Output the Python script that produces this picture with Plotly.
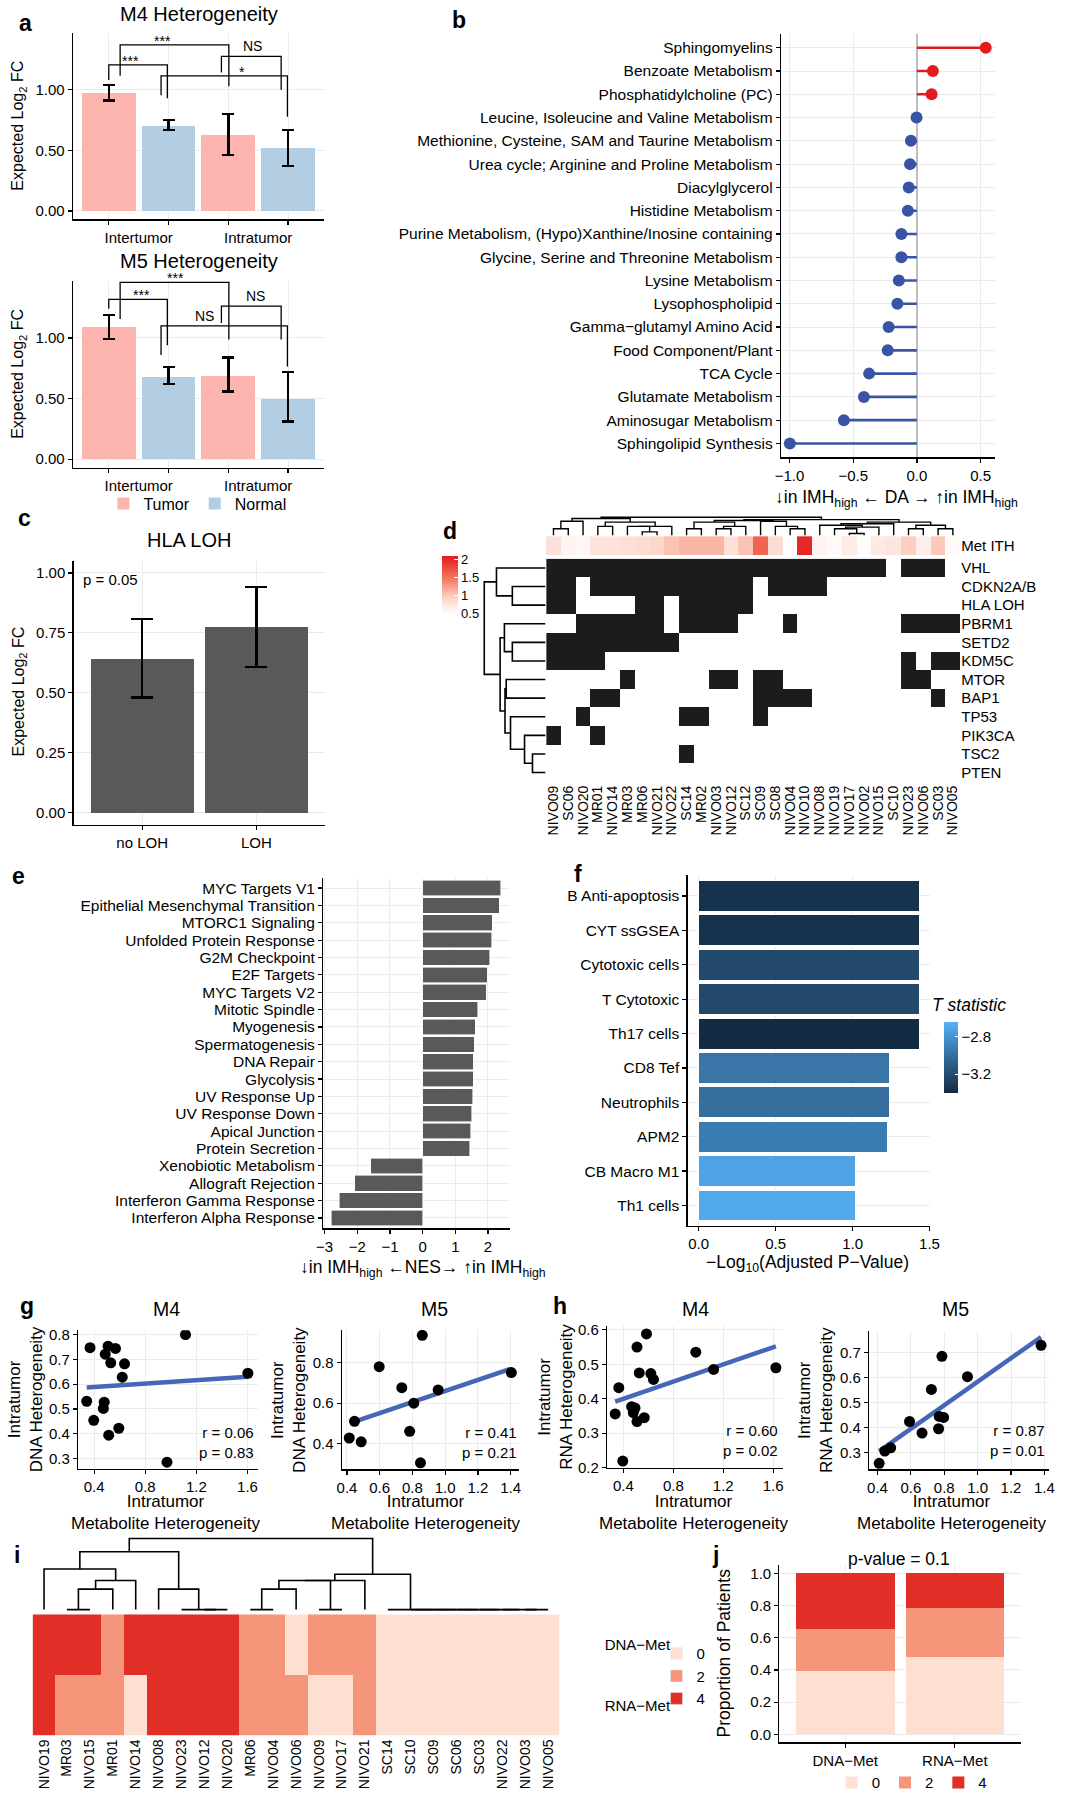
import plotly.graph_objects as go

W, H = 1067, 1800
FONT = "Liberation Sans, Arial, Helvetica, sans-serif"
GRID = "#EBEBEB"
MINUS = "\u2212"

# ===================== DATA =====================
# (a) expected log2 FC
a_groups = ["Intertumor", "Intratumor"]
a_series = ["Tumor", "Normal"]
a_colors = ["#FBB4AE", "#B3CDE3"]
m4_tumor = [0.97, 0.63]
m4_tumor_lo = [0.91, 0.46]
m4_tumor_hi = [1.04, 0.80]
m4_normal = [0.70, 0.52]
m4_normal_lo = [0.67, 0.37]
m4_normal_hi = [0.75, 0.67]
m5_tumor = [1.09, 0.69]
m5_tumor_lo = [0.99, 0.56]
m5_tumor_hi = [1.19, 0.84]
m5_normal = [0.68, 0.50]
m5_normal_lo = [0.62, 0.31]
m5_normal_hi = [0.76, 0.72]
# significance brackets (x in bar slots 1..4)
m4_sig_x1 = [1.00, 1.19, 2.885, 1.875]
m4_sig_x2 = [1.98, 3.01, 3.885, 3.99]
m4_sig_top = [1.205, 1.37, 1.275, 1.115]
m4_sig_left = [1.08, 1.115, 1.143, 0.955]
m4_sig_right = [0.93, 1.03, 1.00, 0.778]
m4_sig_labx = [1.37, 1.90, 3.40, 3.23]
m4_sig_lab = ["***", "***", "NS", "*"]
m5_sig_x1 = [1.00, 1.19, 2.885, 1.875]
m5_sig_x2 = [1.98, 3.01, 3.885, 3.99]
m5_sig_top = [1.318, 1.458, 1.263, 1.10]
m5_sig_left = [1.24, 1.156, 1.123, 0.86]
m5_sig_right = [0.94, 0.987, 0.987, 0.765]
m5_sig_labx = [1.55, 2.12, 3.46, 2.61]
m5_sig_lab = ["***", "***", "NS", "NS"]

# (b) differential abundance
b_pathways = ["Sphingomyelins", "Benzoate Metabolism", "Phosphatidylcholine (PC)",
              "Leucine, Isoleucine and Valine Metabolism",
              "Methionine, Cysteine, SAM and Taurine Metabolism",
              "Urea cycle; Arginine and Proline Metabolism", "Diacylglycerol",
              "Histidine Metabolism", "Purine Metabolism, (Hypo)Xanthine/Inosine containing",
              "Glycine, Serine and Threonine Metabolism", "Lysine Metabolism",
              "Lysophospholipid", "Gamma\u2212glutamyl Amino Acid", "Food Component/Plant",
              "TCA Cycle", "Glutamate Metabolism", "Aminosugar Metabolism",
              "Sphingolipid Synthesis"]
b_da = [0.54, 0.125, 0.115, -0.003, -0.047, -0.054, -0.064, -0.071, -0.122, -0.122,
        -0.142, -0.153, -0.222, -0.229, -0.375, -0.416, -0.573, -0.997]
b_xticks = [-1.0, -0.5, 0.0, 0.5]

# (c) HLA LOH
c_groups = ["no LOH", "LOH"]
c_vals = [0.643, 0.773]
c_lo = [0.48, 0.608]
c_hi = [0.808, 0.941]

# (d) mutation heatmap
d_samples = ["NIVO09", "SC06", "NIVO20", "MR01", "NIVO14", "MR03", "MR06", "NIVO21",
             "NIVO22", "SC14", "MR02", "NIVO03", "NIVO12", "SC12", "SC09", "SC08",
             "NIVO04", "NIVO10", "NIVO08", "NIVO19", "NIVO17", "NIVO02", "NIVO15",
             "SC10", "NIVO23", "NIVO06", "SC03", "NIVO05"]
d_genes = ["VHL", "CDKN2A/B", "HLA LOH", "PBRM1", "SETD2", "KDM5C", "MTOR", "BAP1",
           "TP53", "PIK3CA", "TSC2", "PTEN"]
# altered samples as (first, last) column runs
d_runs = {
    "VHL": [(0, 22), (24, 26)],
    "CDKN2A/B": [(0, 1), (3, 13), (15, 18)],
    "HLA LOH": [(0, 1), (6, 7), (9, 13)],
    "PBRM1": [(2, 7), (9, 12), (16, 16), (24, 27)],
    "SETD2": [(0, 8)],
    "KDM5C": [(0, 3), (24, 24), (26, 27)],
    "MTOR": [(5, 5), (11, 12), (14, 15), (24, 25)],
    "BAP1": [(3, 4), (14, 17), (26, 26)],
    "TP53": [(2, 2), (9, 10), (14, 14)],
    "PIK3CA": [(0, 0), (3, 3)],
    "TSC2": [(9, 9)],
    "PTEN": [],
}
d_met_ith = [0.80, 0.62, 0.58, 0.78, 0.78, 0.82, 0.85, 0.90, 1.05, 1.12, 1.12, 1.12,
             0.80, 1.05, 1.60, 0.85, 0.50, 2.00, 0.62, 0.56, 0.70, 0.52, 0.72, 0.75,
             0.98, 0.68, 1.02, 0.54]
# dendrograms: (node, left, right, height)
d_row_tree = [("r1", 1, 2, 0.54), ("r2", 0, "r1", 0.80), ("r3", 4, 5, 0.54),
              ("r4", 3, "r3", 0.67), ("r5", 10, 11, 0.21), ("r6", 9, "r5", 0.34),
              ("r7", 8, "r6", 0.57), ("r8", 6, 7, 0.64), ("r9", "r8", "r7", 0.66),
              ("r10", "r4", "r9", 0.74), ("root", "r2", "r10", 1.0)]
d_col_tree = [("a1", 0, 1, 0.36), ("a7", "a1", 2, 0.78), ("a2", 3, 4, 0.49),
              ("a3", 6, 7, 0.18), ("a4", 5, "a3", 0.49), ("a5", "a4", 8, 0.49),
              ("a6", "a2", "a5", 0.73), ("a8", "a7", "a6", 0.93),
              ("b1", 9, 10, 0.36), ("b2", 11, 12, 0.36), ("b3", "b2", 13, 0.49),
              ("b4", "b1", "b3", 0.73), ("b5", 16, 17, 0.36), ("b5b", 15, "b5", 0.49),
              ("b6", 14, "b5b", 0.78), ("c1", "b4", "b6", 0.82),
              ("e1", 20, 21, 0.09), ("e2", 19, "e1", 0.36), ("e3", "e2", 22, 0.45),
              ("e4", 18, "e3", 0.55), ("e5", "e4", 23, 0.64),
              ("f1", 24, 25, 0.36), ("f2", 26, 27, 0.36), ("f3", "f1", "f2", 0.55),
              ("g1", "e5", "f3", 0.73), ("g2", "c1", "g1", 0.87),
              ("root", "a8", "g2", 1.0)]

# (e) GSEA NES
e_paths = ["MYC Targets V1", "Epithelial Mesenchymal Transition", "MTORC1 Signaling",
           "Unfolded Protein Response", "G2M Checkpoint", "E2F Targets", "MYC Targets V2",
           "Mitotic Spindle", "Myogenesis", "Spermatogenesis", "DNA Repair", "Glycolysis",
           "UV Response Up", "UV Response Down", "Apical Junction", "Protein Secretion",
           "Xenobiotic Metabolism", "Allograft Rejection", "Interferon Gamma Response",
           "Interferon Alpha Response"]
e_nes = [2.39, 2.35, 2.13, 2.12, 2.05, 1.97, 1.94, 1.69, 1.61, 1.58, 1.55, 1.55, 1.54,
         1.50, 1.47, 1.44, -1.59, -2.07, -2.55, -2.79]
e_xticks = [-3, -2, -1, 0, 1, 2]

# (f) immune signatures
f_sigs = ["B Anti-apoptosis", "CYT ssGSEA", "Cytotoxic cells", "T Cytotoxic", "Th17 cells",
          "CD8 Tef", "Neutrophils", "APM2", "CB Macro M1", "Th1 cells"]
f_logp = [1.434, 1.434, 1.434, 1.434, 1.434, 1.239, 1.239, 1.23, 1.02, 1.016]
f_tstat = [-3.36, -3.36, -3.22, -3.22, -3.40, -2.96, -3.00, -2.92, -2.72, -2.69]
f_xticks = [0.0, 0.5, 1.0, 1.5]
f_cticks = [-3.2, -2.8]

# (g) DNA heterogeneity vs metabolite heterogeneity
g_m4_x = [0.368, 0.509, 0.567, 0.487, 0.530, 0.638, 0.620, 0.342, 0.479, 0.472, 0.397,
          0.593, 0.514, 1.115, 1.603, 0.970]
g_m4_y = [0.747, 0.753, 0.744, 0.721, 0.686, 0.682, 0.628, 0.531, 0.527, 0.502, 0.454,
          0.422, 0.394, 0.800, 0.644, 0.285]
g_m4_fit_x = [0.342, 1.603]
g_m4_fit_y = [0.586, 0.630]
g_m5_x = [0.860, 0.597, 0.735, 0.957, 0.808, 1.404, 0.446, 0.414, 0.487, 0.783, 0.849]
g_m5_y = [0.933, 0.779, 0.676, 0.665, 0.600, 0.750, 0.511, 0.429, 0.410, 0.462, 0.307]
g_m5_fit_x = [0.419, 1.394]
g_m5_fit_y = [0.502, 0.767]
# (h) RNA heterogeneity vs metabolite heterogeneity
h_m4_x = [0.585, 0.509, 0.980, 0.527, 0.620, 0.641, 1.123, 1.622, 0.363, 0.466, 0.493,
          0.479, 0.567, 0.509, 0.334, 0.395]
h_m4_y = [0.588, 0.550, 0.535, 0.475, 0.473, 0.456, 0.485, 0.490, 0.432, 0.377, 0.373,
          0.360, 0.345, 0.334, 0.356, 0.219]
h_m4_fit_x = [0.334, 1.622]
h_m4_fit_y = [0.392, 0.552]
h_m5_x = [0.41, 0.444, 0.479, 0.592, 0.667, 0.723, 0.766, 0.786, 0.770, 0.796, 0.939, 1.380]
h_m5_y = [0.258, 0.307, 0.320, 0.425, 0.379, 0.553, 0.396, 0.685, 0.445, 0.441, 0.604, 0.729]
h_m5_fit_x = [0.41, 1.38]
h_m5_fit_y = [0.307, 0.762]
gh_stats = [("0.06", "0.83"), ("0.41", "0.21"), ("0.60", "0.02"), ("0.87", "0.01")]

# (i) concordance heatmap
i_samples = ["NIVO19", "MR03", "NIVO15", "MR01", "NIVO14", "NIVO08", "NIVO23", "NIVO12",
             "NIVO20", "MR06", "NIVO04", "NIVO06", "NIVO09", "NIVO17", "NIVO21", "SC14",
             "SC10", "SC09", "SC06", "SC03", "NIVO22", "NIVO03", "NIVO05"]
i_rows = ["DNA\u2212Met", "RNA\u2212Met"]
i_dna = [4, 4, 4, 2, 4, 4, 4, 4, 4, 2, 2, 0, 2, 2, 2, 0, 0, 0, 0, 0, 0, 0, 0]
i_rna = [4, 2, 2, 2, 0, 4, 4, 4, 4, 2, 2, 2, 0, 0, 2, 0, 0, 0, 0, 0, 0, 0, 0]
i_levels = [0, 2, 4]
i_colors = ["#FDE0D2", "#F5957A", "#E12E26"]
i_tree = [("ma", 1, 2, 0.0), ("mb", "ma", 3, 0.288), ("mc", "mb", 4, 0.409),
          ("md", 0, "mc", 0.572), ("me", 7, 8, 0.0), ("mf", 6, "me", 0.0),
          ("mg", 5, "mf", 0.288), ("mh", "md", "mg", 0.814),
          ("mi", 9, 10, 0.0), ("mj", "mi", 11, 0.288), ("mk", 12, 13, 0.0),
          ("ml", "mj", "mk", 0.409), ("mm", "ml", 14, 0.409),
          ("s1", 21, 22, 0.0), ("s2", 20, "s1", 0.0), ("s3", 19, "s2", 0.0),
          ("s4", 18, "s3", 0.0), ("s5", 17, "s4", 0.0), ("s6", 16, "s5", 0.0),
          ("s7", 15, "s6", 0.0), ("mn", "mm", "s7", 0.498), ("root", "mh", "mn", 1.0)]
# (j)
j_groups = ["DNA\u2212Met", "RNA\u2212Met"]
j_yticks = [0.0, 0.2, 0.4, 0.6, 0.8, 1.0]

# ===================== HELPERS =====================
fig = go.Figure()
L = {}
ANN = []


def fx(p):
    return p / W


def fy(p):
    return 1 - p / H


def fmt(v, d):
    return f"{v:.{d}f}".replace("-", MINUS)


def axes(n, xd, yd, xr, yr, styled=True, xkw=None, ykw=None):
    s = "" if n == 1 else str(n)
    xa = dict(domain=[fx(xd[0]), fx(xd[1])], range=xr, anchor="y" + s)
    ya = dict(domain=[fy(yd[1]), fy(yd[0])], range=yr, anchor="x" + s)
    for a in (xa, ya):
        a.update(fixedrange=True, zeroline=False)
        if styled:
            a.update(showline=True, linecolor="black", linewidth=1.3, ticks="outside",
                     ticklen=4, tickwidth=1.2, tickcolor="black",
                     tickfont=dict(family=FONT, size=15, color="black"),
                     showgrid=True, gridcolor=GRID, gridwidth=1)
        else:
            a.update(showline=False, ticks="", showgrid=False, showticklabels=False)
    if xkw:
        xa.update(xkw)
    if ykw:
        ya.update(ykw)
    L["xaxis" + s] = xa
    L["yaxis" + s] = ya
    return "x" + s, "y" + s


def text(x, y, s, size=15, xanchor="center", yanchor="middle", angle=0,
         xref="paper", yref="paper", yshift=0, align="center"):
    ANN.append(dict(x=fx(x) if xref == "paper" else x, y=fy(y) if yref == "paper" else y,
                    xref=xref, yref=yref, text=s, showarrow=False, xanchor=xanchor,
                    yanchor=yanchor, textangle=angle, yshift=yshift, align=align,
                    font=dict(family=FONT, size=size, color="black")))


def dendro(tree):
    pos = {}
    xs, hs = [], []

    def get(k):
        return (float(k), 0.0) if isinstance(k, int) else pos[k]
    for name, a, b, h in tree:
        xa, ha = get(a)
        xb, hb = get(b)
        xs += [xa, xa, xb, xb, None]
        hs += [ha, h, h, hb, None]
        pos[name] = ((xa + xb) / 2, h)
    return xs, hs


def cat_ticks(cats, size=None):
    d = dict(type="category", tickmode="array", tickvals=cats, ticktext=cats)
    if size:
        d["tickfont"] = dict(family=FONT, size=size, color="black")
    return d


# ===================== PANEL A =====================
def panel_a(n, yd, tum, tlo, thi, nor, nlo, nhi, sx1, sx2, stop, sl, sr, slx, slab, show_leg):
    xa, ya = axes(n, (67, 322), yd, [0.4, 4.6], [-0.07, 1.47],
                  xkw=dict(tickmode="array", tickvals=[1.5, 3.5], ticktext=a_groups,
                           tickcolor="rgba(0,0,0,0)", showgrid=False,
                           minor=dict(tickmode="array", tickvals=[1, 2, 3, 4], ticks="outside",
                                      ticklen=4, tickwidth=1.2, tickcolor="black",
                                      showgrid=True, gridcolor=GRID, gridwidth=1)),
                  ykw=dict(tickmode="array", tickvals=[0, 0.5, 1.0],
                           ticktext=[fmt(v, 2) for v in [0, 0.5, 1.0]]))
    ng = len(a_groups)
    slots = [[2 * g + 1 for g in range(ng)], [2 * g + 2 for g in range(ng)]]
    for si, (vals, lo, hi) in enumerate([(tum, tlo, thi), (nor, nlo, nhi)]):
        fig.add_trace(go.Bar(
            x=slots[si], y=vals, width=0.9, name=a_series[si],
            marker=dict(color=a_colors[si], line=dict(width=0)),
            error_y=dict(type="data", symmetric=False,
                         array=[h - v for v, h in zip(vals, hi)],
                         arrayminus=[v - l for v, l in zip(vals, lo)],
                         color="black", thickness=2.5, width=6),
            showlegend=show_leg, legend="legend", xaxis=xa, yaxis=ya, hoverinfo="skip"))
    bx, by = [], []
    for a, b, t, l, r in zip(sx1, sx2, stop, sl, sr):
        bx += [a, a, b, b, None]
        by += [l, t, t, r, None]
    fig.add_trace(go.Scatter(x=bx, y=by, mode="lines", line=dict(color="black", width=1.3),
                             showlegend=False, xaxis=xa, yaxis=ya, hoverinfo="skip"))
    for lx, t, lab in zip(slx, stop, slab):
        star = "*" in lab
        text(lx, t, lab, size=14, yanchor="bottom", xref=xa, yref=ya,
             yshift=-6 if star else 0)


panel_a(1, (28, 216), m4_tumor, m4_tumor_lo, m4_tumor_hi, m4_normal, m4_normal_lo,
        m4_normal_hi, m4_sig_x1, m4_sig_x2, m4_sig_top, m4_sig_left, m4_sig_right,
        m4_sig_labx, m4_sig_lab, True)
panel_a(2, (278, 466), m5_tumor, m5_tumor_lo, m5_tumor_hi, m5_normal, m5_normal_lo,
        m5_normal_hi, m5_sig_x1, m5_sig_x2, m5_sig_top, m5_sig_left, m5_sig_right,
        m5_sig_labx, m5_sig_lab, False)
text(195, 9, "M4 Heterogeneity", 20)
text(195, 258, "M5 Heterogeneity", 20)
text(11.7, 122, "Expected Log<sub>2</sub> FC", 16, angle=-90)
text(11.7, 372, "Expected Log<sub>2</sub> FC", 16, angle=-90)

# ===================== PANEL B =====================
xb, yb = axes(3, (786.6, 1004.3), (29, 455.7), [-1.066, 0.615],
              [len(b_pathways) - 0.4, -0.6],
              xkw=dict(tickmode="array", tickvals=b_xticks, ticktext=[fmt(v, 1) for v in b_xticks],
                       zeroline=True, zerolinecolor="#BEBEBE", zerolinewidth=2.5),
              ykw=cat_ticks(b_pathways, 15.5))
B_RED, B_BLUE = "#E41A1C", "#3A54A5"
for sign, col in [(1, B_RED), (-1, B_BLUE)]:
    sx, sy, px, py = [], [], [], []
    for p, v in zip(b_pathways, b_da):
        if (v > 0) == (sign > 0):
            sx += [0, v, None]
            sy += [p, p, None]
            px.append(v)
            py.append(p)
    fig.add_trace(go.Scatter(x=sx, y=sy, mode="lines", line=dict(color=col, width=2.6),
                             showlegend=False, xaxis=xb, yaxis=yb, hoverinfo="skip"))
    fig.add_trace(go.Scatter(x=px, y=py, mode="markers", marker=dict(color=col, size=12),
                             showlegend=False, xaxis=xb, yaxis=yb, hoverinfo="skip"))
text(903.6, 496.7, "\u2193in IMH<sub>high</sub> \u2190 DA \u2192 \u2191in IMH<sub>high</sub>", 17.5)

# ===================== PANEL C =====================
xc, yc = axes(4, (67.7, 323), (560, 825.7), [0.4, 2.6], [-0.05, 1.05],
              xkw=dict(tickmode="array", tickvals=[1, 2], ticktext=c_groups),
              ykw=dict(tickmode="array", tickvals=[0, 0.25, 0.5, 0.75, 1.0],
                       ticktext=[fmt(v, 2) for v in [0, 0.25, 0.5, 0.75, 1.0]]))
fig.add_trace(go.Bar(x=[i + 1 for i in range(len(c_groups))], y=c_vals, width=0.9,
                     marker=dict(color="#595959", line=dict(width=0)),
                     error_y=dict(type="data", symmetric=False,
                                  array=[h - v for v, h in zip(c_vals, c_hi)],
                                  arrayminus=[v - l for v, l in zip(c_vals, c_lo)],
                                  color="black", thickness=2.5, width=11),
                     showlegend=False, xaxis=xc, yaxis=yc, hoverinfo="skip"))
text(185, 539, "HLA LOH", 20)
text(75.3, 579, "p = 0.05", 15, xanchor="left")
text(11.7, 692, "Expected Log<sub>2</sub> FC", 16, angle=-90)

# ===================== PANEL D =====================
nS, nG = len(d_samples), len(d_genes)
d_z = []
for g in d_genes:
    row = [0] * nS
    for a, b in d_runs[g]:
        for k in range(a, b + 1):
            row[k] = 1
    d_z.append(row)
xd5, yd5 = axes(5, (547.8, 968.7), (557.7, 782.5), [-0.5, nS - 0.5], [nG - 0.5, -0.5],
                styled=False,
                xkw=dict(showticklabels=True, tickangle=-90, **cat_ticks(d_samples, 14)),
                ykw=dict(showticklabels=True, side="right", **cat_ticks(d_genes, 15)))
fig.add_trace(go.Heatmap(z=d_z, x=d_samples, y=d_genes, zmin=0, zmax=1,
                         colorscale=[[0, "#FFFFFF"], [1, "#1C1C1C"]], showscale=False,
                         xaxis=xd5, yaxis=yd5, hoverinfo="skip"))
xd6, yd6 = axes(6, (547.8, 968.7), (535, 554), [-0.5, nS - 0.5], [-0.5, 0.5], styled=False,
                xkw=cat_ticks(d_samples),
                ykw=dict(showticklabels=True, side="right", **cat_ticks(["Met ITH"], 15)))
fig.add_trace(go.Heatmap(z=[d_met_ith], x=d_samples, y=["Met ITH"], zmin=0.5, zmax=2.1,
                         colorscale=[[0, "#FFFFFF"], [0.3, "#FCCFC1"], [0.6, "#F47A61"],
                                     [1, "#E31A1C"]],
                         colorbar=dict(x=fx(442), xanchor="left", y=fy(613), yanchor="bottom",
                                       len=58, lenmode="pixels", thickness=16,
                                       thicknessmode="pixels", tickmode="array",
                                       tickvals=[0.5, 1, 1.5, 2],
                                       ticktext=["0.5", "1", "1.5", "2"], ticks="inside",
                                       ticklen=4, tickcolor="white",
                                       tickfont=dict(family=FONT, size=13, color="black"),
                                       outlinewidth=0, xpad=0, ypad=0),
                         xaxis=xd6, yaxis=yd6, hoverinfo="skip"))
xd7, yd7 = axes(7, (482, 548), (557.7, 782.5), [1.048, -0.016], [nG - 0.5, -0.5], styled=False)
rx, rh = dendro(d_row_tree)
fig.add_trace(go.Scatter(x=rh, y=rx, mode="lines", line=dict(color="black", width=1.6),
                         showlegend=False, xaxis=xd7, yaxis=yd7, hoverinfo="skip"))
xd8, yd8 = axes(8, (547.8, 968.7), (513, 535), [-0.5, nS - 0.5], [-0.056, 1.167], styled=False)
cx, ch = dendro(d_col_tree)
fig.add_trace(go.Scatter(x=cx, y=ch, mode="lines", line=dict(color="black", width=1.4),
                         showlegend=False, xaxis=xd8, yaxis=yd8, hoverinfo="skip"))

# ===================== PANEL E =====================
xe, ye = axes(9, (321.4, 510.7), (879, 1232.3), [-3.04, 2.66], [len(e_paths) - 0.4, -0.6],
              xkw=dict(tickmode="array", tickvals=e_xticks, ticktext=[fmt(v, 0) for v in e_xticks]),
              ykw=cat_ticks(e_paths, 15.5))
fig.add_trace(go.Bar(x=e_nes, y=e_paths, orientation="h", width=0.9,
                     marker=dict(color="#595959", line=dict(color="white", width=0.6)),
                     showlegend=False, xaxis=xe, yaxis=ye, hoverinfo="skip"))
text(423, 1273, "\u2193in IMH<sub>high</sub> \u2190NES\u2192 \u2191in IMH<sub>high</sub>", 17.5)

# ===================== PANEL F =====================
xf, yf = axes(10, (691.7, 937.7), (876.7, 1230), [-0.0715, 1.5015], [len(f_sigs) - 0.4, -0.6],
              xkw=dict(tickmode="array", tickvals=f_xticks, ticktext=[fmt(v, 1) for v in f_xticks]),
              ykw=cat_ticks(f_sigs, 15.5))
fig.add_trace(go.Bar(x=f_logp, y=f_sigs, orientation="h", width=0.9,
                     marker=dict(color=f_tstat, cmin=-3.40, cmax=-2.64,
                                 colorscale=[[0, "#132B43"], [0.5, "#336A98"], [1, "#56B1F7"]],
                                 line=dict(color="white", width=1),
                                 colorbar=dict(x=fx(951.7), xanchor="left", y=fy(1095.7),
                                               yanchor="bottom", len=70.7, lenmode="pixels",
                                               thickness=14.3, thicknessmode="pixels",
                                               tickmode="array", tickvals=f_cticks,
                                               ticktext=[fmt(v, 1) for v in f_cticks],
                                               ticks="inside", ticklen=3, tickcolor="white",
                                               tickfont=dict(family=FONT, size=15, color="black"),
                                               outlinewidth=0, xpad=0, ypad=0)),
                     showlegend=False, xaxis=xf, yaxis=yf, hoverinfo="skip"))
text(938, 1007.7, "<i>T statistic</i>", 17.5, xanchor="left")
text(813, 1268, MINUS + "Log<sub>10</sub>(Adjusted P" + MINUS + "Value)", 17.5)

# ===================== PANELS G / H =====================
LINE_BLUE = "#4666B8"
sc_specs = [
    (11, (72.3, 254.8), (1335, 1474.3), [0.275, 1.68], [0.259, 0.817],
     [0.4, 0.8, 1.2, 1.6], [0.3, 0.4, 0.5, 0.6, 0.7, 0.8], g_m4_x, g_m4_y, g_m4_fit_x, g_m4_fit_y,
     "M4", 161.9, 19, 1404.6, 253.1, 1447.5, "DNA", 161.9),
    (12, (340.3, 520), (1334.3, 1475), [0.369, 1.449], [0.275, 0.961],
     [0.4, 0.6, 0.8, 1.0, 1.2, 1.4], [0.4, 0.6, 0.8], g_m5_x, g_m5_y, g_m5_fit_x, g_m5_fit_y,
     "M5", 434.6, 285.9, 1404.7, 520, 1447.5, "DNA", 425.3),
    (13, (609.9, 788.7), (1331, 1473.3), [0.27, 1.68], [0.2, 0.61],
     [0.4, 0.8, 1.2, 1.6], [0.2, 0.3, 0.4, 0.5, 0.6], h_m4_x, h_m4_y, h_m4_fit_x, h_m4_fit_y,
     "M4", 699.6, 557.7, 1402, 785.4, 1445.8, "RNA", 698),
    (14, (876.1, 1059.3), (1335.7, 1475), [0.35, 1.43], [0.234, 0.786],
     [0.4, 0.6, 0.8, 1.0, 1.2, 1.4], [0.3, 0.4, 0.5, 0.6, 0.7], h_m5_x, h_m5_y, h_m5_fit_x,
     h_m5_fit_y, "M5", 964.2, 822.3, 1405, 1056.6, 1445.8, "RNA", 960),
]
for k, (n, xdm, ydm, xr, yr, xt, yt, px, py, fxs, fys, ttl, tx, ytx, yty, sx, sy, kind, xtx) in enumerate(sc_specs):
    xa, ya = axes(n, xdm, ydm, xr, yr,
                  xkw=dict(tickmode="array", tickvals=xt, ticktext=[fmt(v, 1) for v in xt]),
                  ykw=dict(tickmode="array", tickvals=yt, ticktext=[fmt(v, 1) for v in yt]))
    fig.add_trace(go.Scatter(x=fxs, y=fys, mode="lines", line=dict(color=LINE_BLUE, width=4.5),
                             showlegend=False, xaxis=xa, yaxis=ya, hoverinfo="skip"))
    fig.add_trace(go.Scatter(x=px, y=py, mode="markers", marker=dict(color="black", size=11),
                             showlegend=False, xaxis=xa, yaxis=ya, hoverinfo="skip"))
    text(tx, 1313, ttl, 19.5)
    text(ytx, yty, f"Intratumor<br>{kind} Heterogeneity", 17, angle=-90)
    text(xtx, 1518.5, "Intratumor<br>Metabolite Heterogeneity", 17)
    r, p = gh_stats[k]
    text(sx, sy, f"r = {r}<br>p = {p}", 15, xanchor="right", align="right")

# ===================== PANEL I =====================
nI = len(i_samples)
xi, yi = axes(15, (26, 561.6), (1621, 1743.3), [-0.5, nI - 0.5], [1.5, -0.5], styled=False,
              xkw=dict(showticklabels=True, tickangle=-90, **cat_ticks(i_samples, 14)),
              ykw=dict(showticklabels=True, side="right", ticklabelstandoff=44,
                       **cat_ticks(i_rows, 15)))
fig.add_trace(go.Heatmap(z=[i_dna, i_rna], x=i_samples, y=i_rows, zmin=0, zmax=4,
                         colorscale=[[0, i_colors[0]], [0.5, i_colors[1]], [1, i_colors[2]]],
                         showscale=False, xaxis=xi, yaxis=yi, hoverinfo="skip"))
xi2, yi2 = axes(16, (26, 561.6), (1540, 1619), [-0.5, nI - 0.5], [-0.038, 1.066], styled=False)
ix, ih = dendro(i_tree)
fig.add_trace(go.Scatter(x=ix, y=ih, mode="lines", line=dict(color="black", width=1.6),
                         showlegend=False, xaxis=xi2, yaxis=yi2, hoverinfo="skip"))
for lvl, col in zip(i_levels, i_colors):
    fig.add_trace(go.Bar(x=[None], y=[None], name=str(lvl), marker=dict(color=col),
                         legend="legend2", showlegend=True, xaxis=xi2, yaxis=yi2,
                         hoverinfo="skip"))

# ===================== PANEL J =====================
xj, yj = axes(17, (785, 1030), (1571.7, 1750), [0.4, 2.6], [-0.05, 1.05],
              xkw=dict(tickmode="array", tickvals=[1, 2], ticktext=j_groups),
              ykw=dict(tickmode="array", tickvals=j_yticks, ticktext=[fmt(v, 1) for v in j_yticks]))
for lvl, col in zip(i_levels, i_colors):
    props = [sum(1 for v in row if v == lvl) / len(row) for row in (i_dna, i_rna)]
    fig.add_trace(go.Bar(x=[1, 2], y=props, width=0.9, name=str(lvl),
                         marker=dict(color=col, line=dict(width=0)), legend="legend3",
                         showlegend=True, xaxis=xj, yaxis=yj, hoverinfo="skip"))
text(906.7, 1565, "p-value = 0.1", 17.5)
text(729, 1660, "Proportion of Patients", 17.5, angle=-90)

# ===================== PANEL LABELS =====================
for lab, x, y in [("a", 19, 18.3), ("b", 458.9, 15), ("c", 18, 517), ("d", 450, 530),
                  ("e", 12, 877), ("f", 580, 875), ("g", 20, 1310), ("h", 561.8, 1310),
                  ("i", 10, 1561.7), ("j", 719.7, 1561.7)]:
    text(x, y, f"<b>{lab}</b>", 23)

leg_common = dict(bgcolor="rgba(0,0,0,0)", borderwidth=0, traceorder="normal",
                  tracegroupgap=0, itemclick=False, itemdoubleclick=False)
L["legend"] = dict(orientation="h", x=fx(98), y=fy(485), xanchor="left", yanchor="top",
                   font=dict(family=FONT, size=16, color="black"), **leg_common)
L["legend2"] = dict(orientation="v", x=fx(660), y=fy(1644), xanchor="left", yanchor="top",
                    font=dict(family=FONT, size=15, color="black"), **leg_common)
L["legend3"] = dict(orientation="h", x=fx(838), y=fy(1774), xanchor="left", yanchor="top",
                    font=dict(family=FONT, size=15, color="black"), **leg_common)

fig.update_layout(width=W, height=H, margin=dict(l=0, r=0, t=0, b=0),
                  paper_bgcolor="white", plot_bgcolor="white", barmode="stack",
                  font=dict(family=FONT, size=15, color="black"),
                  annotations=ANN, showlegend=True, hovermode=False, **L)
fig.write_html("out.html", config={"displayModeBar": False, "staticPlot": True},
               post_script="document.body.style.margin='0px';document.body.style.overflow='hidden';")
